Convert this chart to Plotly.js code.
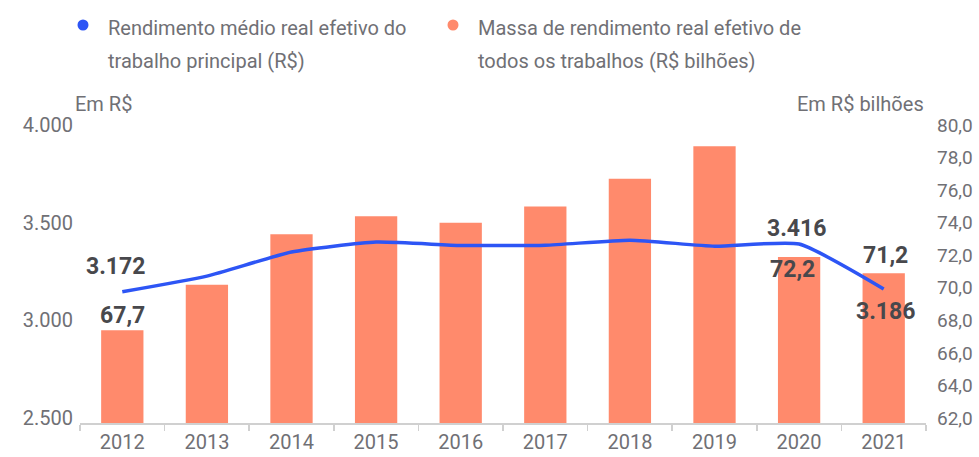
<!DOCTYPE html>
<html>
<head>
<meta charset="utf-8">
<script src="https://cdn.plot.ly/plotly-3.0.1.min.js"></script>
<style>
html,body{margin:0;padding:0;background:#fff;}
#chart{width:979px;height:457px;}
</style>
</head>
<body>
<div id="chart"></div>
<script>
// ---- Data ----
const years = ["2012","2013","2014","2015","2016","2017","2018","2019","2020","2021"];
const rendimentoMedio = [3172, 3252, 3375, 3426, 3409, 3410, 3436, 3405, 3416, 3186];
const massaRendimento = [67.7, 70.5, 73.6, 74.7, 74.3, 75.3, 77.0, 79.0, 72.2, 71.2];
const leftTicks = [2500, 3000, 3500, 4000];
const leftTickText = ["2.500", "3.000", "3.500", "4.000"];
const rightTicks = [62, 64, 66, 68, 70, 72, 74, 76, 78, 80];
const rightTickText = ["62,0","64,0","66,0","68,0","70,0","72,0","74,0","76,0","78,0","80,0"];
const legendLine = ["Rendimento médio real efetivo do", "trabalho principal (R$)"];
const legendBar = ["Massa de rendimento real efetivo de", "todos os trabalhos (R$ bilhões)"];
const leftUnit = "Em R$";
const rightUnit = "Em R$ bilhões";

// ---- Style ----
const FONT = 'Roboto, "Open Sans", sans-serif';
const GRAY = '#707075';
const DARK = '#48484c';
const BLUE = '#2d55f5';
const SALMON = '#ff8a6c';

// plot area in pixels
const L = 80, R = 926, T = 130, B = 423;
const px2x = p => (p - L) / (R - L);
const px2y = p => (B - p) / (B - T);

function fmtInt(v){ return String(v).replace(/\B(?=(\d{3})+(?!\d))/g, '.'); }
function fmtDec(v){ return v.toFixed(1).replace('.', ','); }

const traces = [
  {
    type: 'bar', x: years, y: massaRendimento, yaxis: 'y',
    marker: {color: SALMON}, width: 0.5, hoverinfo: 'skip', showlegend: false
  },
  {
    type: 'scatter', mode: 'lines', x: years, y: rendimentoMedio, yaxis: 'y2',
    line: {color: BLUE, width: 3.5, shape: 'spline', smoothing: 0.5},
    hoverinfo: 'skip', showlegend: false
  }
];

const annotations = [];
const LABELFONT = {family: FONT, size: 23, color: DARK, weight: 700};
const lineLabels = [
  {i: 0, xs: -7, ys: 25},
  {i: 8, xs: -3, ys: 16},
  {i: 9, xs: 2, ys: -22}
];
lineLabels.forEach(o => annotations.push({
  x: o.i, y: rendimentoMedio[o.i], xref: 'x', yref: 'y2',
  text: fmtInt(rendimentoMedio[o.i]), showarrow: false,
  xshift: o.xs, yshift: o.ys, font: LABELFONT
}));
const barLabels = [
  {i: 0, xs: 0, ys: 15},
  {i: 8, xs: -7, ys: -13},
  {i: 9, xs: 2, ys: 18}
];
barLabels.forEach(o => annotations.push({
  x: o.i, y: massaRendimento[o.i], xref: 'x', yref: 'y',
  text: fmtDec(massaRendimento[o.i]), showarrow: false,
  xshift: o.xs, yshift: o.ys, font: LABELFONT
}));
// Unit titles
annotations.push({x: px2x(73), y: px2y(104), xref: 'paper', yref: 'paper', xanchor: 'left', yanchor: 'middle',
  text: leftUnit, showarrow: false, font: {family: FONT, size: 20, color: GRAY}});
annotations.push({x: px2x(926), y: px2y(104), xref: 'paper', yref: 'paper', xanchor: 'right', yanchor: 'middle',
  text: rightUnit, showarrow: false, font: {family: FONT, size: 20, color: GRAY}});
// Legend text
function legendText(lines, xpx){
  lines.forEach((t, k) => annotations.push({
    x: px2x(xpx), y: px2y(28 + 33 * k), xref: 'paper', yref: 'paper',
    xanchor: 'left', yanchor: 'middle', text: t, showarrow: false,
    font: {family: FONT, size: 20, color: GRAY}
  }));
}
const shapes = [];
function legendDot(xpx, color){
  shapes.push({type: 'circle', xref: 'paper', yref: 'paper', fillcolor: color, line: {width: 0},
    x0: px2x(xpx - 5.5), x1: px2x(xpx + 5.5),
    y0: px2y(25 + 5.5), y1: px2y(25 - 5.5)});
}
legendText(legendLine, 106);
legendText(legendBar, 476);
legendDot(83, BLUE);
legendDot(453, SALMON);

const layout = {
  width: 979, height: 457,
  margin: {l: L, r: 979 - R, t: T, b: 457 - B},
  paper_bgcolor: '#fff', plot_bgcolor: '#fff',
  font: {family: FONT, color: GRAY, size: 20},
  showlegend: false,
  xaxis: {
    type: 'category', range: [-0.5, 9.5],
    showline: true, linecolor: '#d0d0d0', linewidth: 1.5,
    ticks: 'outside', tickson: 'boundaries', ticklen: 6, tickcolor: '#d0d0d0', tickwidth: 1.5,
    tickfont: {family: FONT, size: 20, color: GRAY},
    showgrid: false, zeroline: false, fixedrange: true
  },
  yaxis: {
    side: 'right', range: [62, 80],
    tickvals: rightTicks, ticktext: rightTickText,
    tickfont: {family: FONT, size: 19, color: GRAY},
    showgrid: false, zeroline: false, showline: false, ticks: '',
    ticklabelstandoff: 10, ticklabelshift: -5
  },
  yaxis2: {
    side: 'left', overlaying: 'y', range: [2500, 4000],
    tickvals: leftTicks, ticktext: leftTickText,
    tickfont: {family: FONT, size: 20, color: GRAY},
    showgrid: false, zeroline: false, showline: false, ticks: '',
    ticklabelstandoff: 6, ticklabelshift: -5
  },
  annotations: annotations,
  shapes: shapes
};

Plotly.newPlot('chart', traces, layout, {staticPlot: true, displayModeBar: false});
</script>
</body>
</html>
